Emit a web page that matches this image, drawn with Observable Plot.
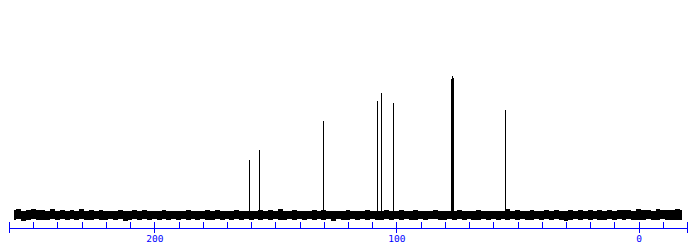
<!DOCTYPE html>
<html><head><meta charset="utf-8">
<script src="https://cdn.jsdelivr.net/npm/d3@7"></script>
<script src="https://cdn.jsdelivr.net/npm/@observablehq/plot@0.6"></script>
<style>html,body{margin:0;padding:0;background:#fff;}</style>
</head><body><div id="chart"></div>
<script>
// 13C NMR spectrum (ppm), peaks
const peakPpm = [160.8, 156.7, 130.3, 108.0, 106.4, 101.4, 77.4, 77.16, 76.84, 55.3];
const peakHeight = [39.6, 46.8, 67.7, 82.3, 87.9, 80.7, 98.0, 100.0, 98.5, 75.6];

// baseline noise envelope, sampled every 2 ppm from 258 down to -18
const noisePpm = d3.range(258, -19, -2);
const noiseHigh = [
  3.4, 4.6, 3.1, 3.6, 4.2, 3.3, 3.5, 3.0, 4.4, 3.2,
  3.4, 2.9, 3.6, 3.1, 4.0, 2.8, 3.3, 3.0, 3.5, 2.9,
  3.2, 2.7, 3.4, 3.0, 2.6, 3.3, 2.9, 3.9, 2.8, 3.1,
  2.7, 3.4, 2.9, 3.2, 2.6, 3.0, 3.6, 2.8, 3.1, 2.7,
  3.3, 2.9, 3.8, 2.7, 3.1, 2.8, 3.4, 2.9, 3.2, 2.6,
  3.0, 3.5, 2.8, 3.3, 2.9, 4.1, 2.7, 3.0, 3.4, 2.8,
  3.1, 2.6, 3.3, 2.9, 3.6, 2.8, 3.0, 3.2, 2.7, 3.4,
  2.9, 3.1, 2.7, 3.5, 2.8, 3.2, 2.9, 3.7, 2.8, 3.0,
  3.3, 2.7, 3.0, 3.4, 2.6, 3.1, 2.9, 3.5, 2.8, 3.2,
  3.0, 2.7, 3.3, 2.9, 3.1, 2.6, 3.4, 2.8, 3.0, 3.2,
  2.7, 3.1, 4.0, 2.8, 3.3, 2.9, 3.0, 3.5, 2.8, 3.1,
  3.3, 2.9, 3.6, 3.0, 2.8, 3.4, 3.1, 3.7, 2.9, 3.5,
  3.2, 3.8, 3.0, 3.4, 3.1, 3.9, 3.3, 3.6, 3.0, 4.3,
  3.4, 3.7, 3.2, 4.5, 3.5, 3.8, 3.3, 4.0, 3.6
];
const noiseLow = [
  -3.6, -3.2, -4.1, -3.4, -3.0, -3.8, -3.3, -3.9, -3.1, -3.5,
  -3.0, -3.7, -3.2, -3.5, -2.9, -3.4, -3.8, -3.1, -3.3, -3.6,
  -3.2, -3.5, -3.0, -4.2, -3.3, -3.1, -3.6, -3.0, -3.4, -3.2,
  -3.5, -3.1, -3.3, -3.0, -3.7, -3.2, -3.4, -3.1, -3.9, -3.0,
  -3.3, -3.6, -3.1, -3.4, -3.0, -3.5, -3.2, -3.8, -3.1, -3.3,
  -3.0, -3.4, -3.2, -3.6, -3.1, -3.3, -3.5, -3.0, -3.7, -3.2,
  -3.4, -3.1, -3.3, -3.0, -3.5, -3.2, -4.0, -3.1, -3.4, -3.3,
  -3.1, -3.5, -3.2, -3.4, -3.0, -3.6, -3.3, -3.1, -3.5, -3.2,
  -3.4, -3.0, -3.3, -3.6, -3.1, -3.4, -3.2, -3.0, -3.5, -3.3,
  -3.1, -3.4, -3.2, -3.5, -3.0, -3.3, -3.6, -3.2, -3.4, -3.1,
  -3.3, -3.0, -3.5, -3.2, -3.4, -3.1, -3.7, -3.3, -3.0, -3.4,
  -3.2, -3.5, -3.1, -3.4, -4.4, -3.3, -3.0, -3.6, -3.2, -3.5,
  -3.1, -3.4, -3.3, -3.0, -3.6, -3.2, -3.5, -3.1, -3.7, -3.3,
  -3.6, -3.2, -3.8, -3.4, -3.1, -3.5, -3.9, -3.3, -3.6
];

// axis
const xDomain = [260, -20];
const majorTicks = [260, 200, 100, 0, -20];
const minorTicks = [250, 240, 230, 220, 210, 190, 180, 170, 160, 150, 140, 130, 120, 110,
                    90, 80, 70, 60, 50, 40, 30, 20, 10, -10];
const tickLabels = [200, 100, 0];

const peaks = peakPpm.map((p, i) => ({ppm: p, h: peakHeight[i]}));
const noise = noisePpm.map((p, i) => ({ppm: p, hi: noiseHigh[i], lo: noiseLow[i]}));
const yDomain = [-9.35, 154.7];

const chart = Plot.plot({
  width: 697,
  height: 246,
  marginLeft: 9,
  marginRight: 10,
  marginTop: 0,
  marginBottom: 18,
  style: {background: "#fff"},
  x: {domain: xDomain, label: null},
  y: {domain: yDomain, axis: null},
  marks: [
    Plot.areaY(noise, {x: "ppm", y1: "lo", y2: "hi", fill: "black", curve: "step", shapeRendering: "crispEdges"}),
    Plot.ruleX(peaks, {x: "ppm", y1: 0, y2: "h", stroke: "black", strokeWidth: 1, shapeRendering: "crispEdges"}),
    Plot.ruleY([yDomain[0]], {stroke: "blue", shapeRendering: "crispEdges"}),
    Plot.ruleX(minorTicks, {stroke: "blue", insetTop: 222, shapeRendering: "crispEdges"}),
    Plot.ruleX(majorTicks, {stroke: "blue", insetTop: 222, insetBottom: -5, shapeRendering: "crispEdges"}),
    Plot.axisX(tickLabels, {tickSize: 0, tickPadding: 7, color: "blue", label: null,
      fontFamily: "DejaVu Sans Mono", fontSize: 9.5})
  ]
});
document.getElementById("chart").appendChild(chart);
</script>
</body></html>
